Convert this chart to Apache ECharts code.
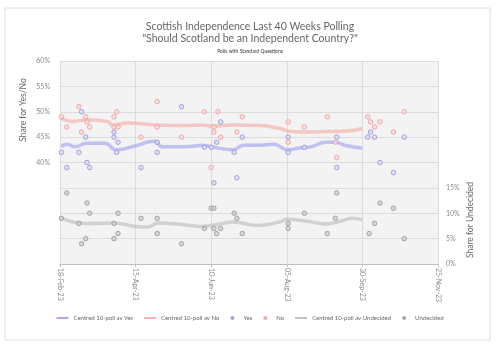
<!DOCTYPE html>
<html>
<head>
<meta charset="utf-8">
<script src="https://cdn.jsdelivr.net/npm/echarts@6/dist/echarts.min.js"></script>
<style>
  html, body { margin: 0; padding: 0; background: #fff; }
  #chart { width: 500px; height: 353px; }
</style>
</head>
<body>
<div id="chart"></div>
<script>
// days counted from 18-Feb-23, one tick every 8 weeks
const tickLabels = ['18-Feb-23', '15-Apr-23', '10-Jun-23', '05-Aug-23', '30-Sep-23', '25-Nov-23']

// single polls [day, %]
const yesPolls = [[1,42],[5,39],[14,42],[16,50],[19,45],[20,40],[22,39],[40,46],[40,45],[42,42],[43,44],[60,39],[72,44],[72,42],[90,51],[107,43],[112,43],[114,36],[116,44],[119,48],[129,42],[131,37],[135,45],[169,45],[169,42],[181,43],[205,45],[205,39],[228,45],[230,46],[233,45],[237,40],[247,38],[255,45]]
const noPolls = [[1,49],[5,47],[14,51],[16,46],[19,49],[20,48],[22,47],[40,49],[40,47],[42,50],[43,47],[60,45],[72,52],[72,47],[90,45],[107,50],[112,39],[114,47],[114,46],[117,50],[119,45],[131,46],[135,49],[169,48],[169,44],[181,47],[198,49],[204,44],[205,41],[228,49],[230,48],[233,47],[237,48],[247,46],[255,50]]
const undPolls = [[1,9],[5,14],[14,8],[16,4],[19,5],[20,12],[22,10],[40,5],[40,8],[43,10],[43,6],[60,9],[72,9],[72,6],[90,4],[107,7],[112,11],[114,11],[114,7],[116,6],[119,7],[129,10],[131,9],[135,6],[169,8],[169,7],[181,10],[198,6],[204,9],[205,14],[229,6],[233,8],[237,12],[247,11],[255,5]]

// centred 10-poll averages
const yesAvg = [[1,43.1],[5,43.6],[11,43.1],[20,43.8],[33,43.8],[42,42.5],[56,43.3],[70,44.2],[76,43.1],[93,43.1],[106,43.4],[112,43.1],[128,42.5],[136,43.4],[146,43.4],[158,43.6],[169,42.5],[178,42.9],[186,43.1],[197,44.0],[204,44.0],[211,43.4],[224,42.8]]
const noAvg = [[1,48.7],[9,48.1],[20,48.4],[35,48.1],[39,47.4],[50,47.8],[70,47.4],[93,47.3],[104,47.4],[113,47.2],[128,47.4],[148,47.3],[163,46.7],[171,46.1],[186,46.0],[197,46.1],[212,46.2],[224,46.7]]
const undAvg = [[1,9.1],[14,8.1],[25,8.0],[40,8.1],[56,7.4],[65,7.3],[73,8.1],[93,7.7],[104,7.4],[121,8.0],[128,8.3],[146,7.6],[163,8.3],[168,8.8],[186,8.3],[197,7.9],[206,8.3],[217,9.0],[224,8.7]]

const font = 'Lato, "Open Sans", sans-serif'
const grey = '#8c8c8c'

function avgLine(name, data, color, axis) {
  return {
    name: name,
    type: 'line',
    yAxisIndex: axis,
    data: data,
    smooth: true,
    showSymbol: false,
    lineStyle: { color: color, width: 3.5, opacity: 0.7 },
    itemStyle: { color: color },
    z: 2
  }
}

function dots(name, data, fill, border, axis) {
  return {
    name: name,
    type: 'scatter',
    yAxisIndex: axis,
    data: data,
    symbol: 'circle',
    symbolSize: 4.5,
    itemStyle: { color: fill, borderColor: border, borderWidth: 1 },
    z: 3
  }
}

const chart = echarts.init(document.getElementById('chart'))

chart.setOption({
  animation: false,
  textStyle: { fontFamily: font },
  title: {
    text: 'Scottish Independence Last 40 Weeks Polling\n"Should Scotland be an Independent Country?"',
    subtext: 'Polls with Standard Questions',
    left: 'center',
    top: 16,
    itemGap: 4,
    textStyle: { fontFamily: font, fontSize: 10.5, fontWeight: 'normal', color: '#666', lineHeight: 12 },
    subtextStyle: { fontFamily: font, fontSize: 5, color: '#333' }
  },
  graphic: [
    { type: 'rect', shape: { x: 5, y: 8, width: 485, height: 332 }, style: { fill: 'none', stroke: '#dedede', lineWidth: 1 }, z: -10 },
    { type: 'text', x: 23, y: 110, rotation: Math.PI / 2, style: { text: 'Share for Yes/No', font: '8.5px ' + font, fill: '#666', align: 'center', verticalAlign: 'middle' } },
    { type: 'text', x: 470, y: 220, rotation: Math.PI / 2, style: { text: 'Share for Undecided', font: '8.5px ' + font, fill: '#666', align: 'center', verticalAlign: 'middle' } }
  ],
  grid: {
    left: 60, right: 62, top: 61, bottom: 89,
    show: true, backgroundColor: '#f3f3f3', borderWidth: 0
  },
  legend: {
    bottom: 27,
    left: 'center',
    itemWidth: 12,
    itemHeight: 2,
    itemGap: 11,
    textStyle: { fontFamily: font, fontSize: 6, color: '#666' },
    data: [
      { name: 'Centred 10-poll av Yes', icon: 'rect' },
      { name: 'Centred 10-poll av No', icon: 'rect' },
      { name: 'Yes', icon: 'circle' },
      { name: 'No', icon: 'circle' },
      { name: 'Centred 10-poll av Undecided', icon: 'rect' },
      { name: 'Undecided', icon: 'circle' }
    ]
  },
  xAxis: {
    type: 'value',
    min: 0,
    max: 280,
    interval: 56,
    axisLine: { show: true, lineStyle: { color: '#bfbfbf' } },
    axisTick: { show: true, length: 3, lineStyle: { color: '#bfbfbf' } },
    splitLine: { show: true, lineStyle: { color: '#dcdcdc' } },
    axisLabel: {
      rotate: -90,
      fontSize: 7,
      color: grey,
      margin: 4,
      formatter: v => tickLabels[Math.round(v / 56)] || ''
    }
  },
  yAxis: [
    {
      type: 'value',
      min: 20,
      max: 60,
      interval: 5,
      axisLine: { show: false },
      axisTick: { show: false },
      splitLine: { lineStyle: { color: '#dcdcdc' } },
      axisLabel: { fontSize: 7, color: grey, margin: 10, formatter: v => v >= 40 ? v + '%' : '' }
    },
    {
      type: 'value',
      min: 0,
      max: 40,
      interval: 5,
      axisLine: { show: false },
      axisTick: { show: false },
      splitLine: { show: false },
      axisLabel: { fontSize: 7, color: grey, margin: 8, formatter: v => v <= 15 ? v + '%' : '' }
    }
  ],
  series: [
    avgLine('Centred 10-poll av Yes', yesAvg, '#a9a9f0', 0),
    avgLine('Centred 10-poll av No', noAvg, '#f4b4ae', 0),
    dots('Yes', yesPolls, '#dcdcf6', '#9090d8', 0),
    dots('No', noPolls, '#fadada', '#ef9a9a', 0),
    avgLine('Centred 10-poll av Undecided', undAvg, '#c2c2c2', 1),
    dots('Undecided', undPolls, '#d0d0d0', '#959595', 1)
  ]
})
</script>
</body>
</html>
